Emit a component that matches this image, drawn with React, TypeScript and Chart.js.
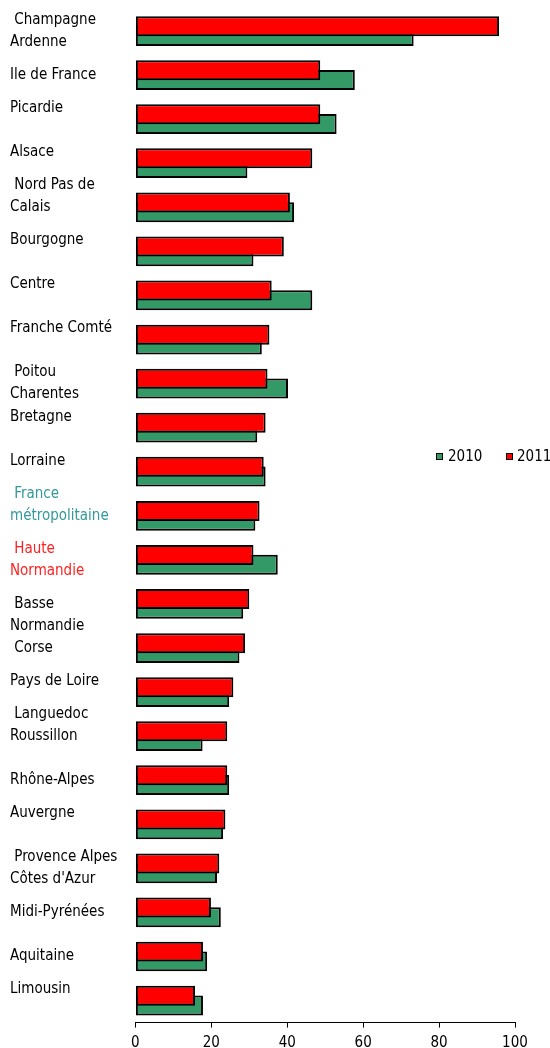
import React, { useEffect, useRef } from "react";
import { Chart, registerables } from "chart.js";

Chart.register(...registerables);

// ---- data ----
const categories: string[][] = [
  [" Champagne", "Ardenne"],
  ["Ile de France"],
  ["Picardie", ""],
  ["Alsace", ""],
  [" Nord Pas de", "Calais", ""],
  ["Bourgogne", ""],
  ["Centre", ""],
  ["Franche Comté", ""],
  [" Poitou", "Charentes"],
  ["Bretagne", ""],
  ["Lorraine", ""],
  [" France", "métropolitaine", ""],
  [" Haute", "Normandie"],
  ["", " Basse", "Normandie"],
  [" Corse"],
  ["Pays de Loire", ""],
  [" Languedoc", "Roussillon", ""],
  ["Rhône-Alpes"],
  ["Auvergne", ""],
  [" Provence Alpes", "Côtes d'Azur"],
  ["Midi-Pyrénées"],
  ["Aquitaine"],
  ["Limousin", ""],
];

const values2010: number[] = [
  73.3, 57.8, 53.0, 29.5, 41.8, 31.1, 46.6, 33.3, 40.2, 32.1, 34.3, 31.6,
  37.5, 28.4, 27.4, 24.7, 17.7, 24.7, 23.1, 21.5, 22.5, 18.9, 17.8,
];

const values2011: number[] = [
  95.8, 48.7, 48.7, 46.6, 40.7, 39.1, 35.9, 35.3, 34.8, 34.3, 33.8, 32.7,
  31.1, 30.0, 28.9, 25.8, 24.2, 24.2, 23.7, 22.1, 19.9, 17.8, 15.7,
];

const seriesNames: string[] = ["2010", "2011"];
const xTickValues: number[] = [0, 20, 40, 60, 80, 100];

// ---- styles ----
const FONT = '"DejaVu Sans Condensed", "DejaVu Sans", sans-serif';
const GREEN = "#339966";
const RED = "#ff0000";
const labelColor = (i: number) =>
  i === 11 ? "#339999" : i === 12 ? "#ff2020" : "#000000";

export default function App() {
  const canvasRef = useRef<HTMLCanvasElement | null>(null);

  useEffect(() => {
    if (!canvasRef.current) return;
    const barCommon = {
      borderColor: "#000000",
      borderWidth: 2,
      borderSkipped: false,
      categoryPercentage: 0.4425,
      barPercentage: 2.05,
    };
    const chart = new Chart(canvasRef.current, {
      type: "bar",
      data: {
        labels: categories,
        datasets: [
          {
            label: seriesNames[1],
            data: values2011,
            backgroundColor: RED,
            ...barCommon,
          },
          {
            label: seriesNames[0],
            data: values2010,
            backgroundColor: GREEN,
            ...barCommon,
          },
        ],
      },
      options: {
        indexAxis: "y",
        responsive: false,
        animation: false,
        layout: { padding: { left: 10, right: 35, top: 9, bottom: 0 } },
        plugins: {
          legend: { display: false },
          tooltip: { enabled: false },
        },
        scales: {
          x: {
            type: "linear",
            position: "bottom",
            min: 0,
            max: 100,
            afterBuildTicks: (s: any) => {
              s.ticks = xTickValues.map((v) => ({ value: v }));
            },
            ticks: {
              color: "#000000",
              font: { family: FONT, size: 15 },
              padding: 7,
              maxRotation: 0,
            },
            grid: {
              display: true,
              drawOnChartArea: false,
              drawTicks: true,
              tickLength: 5,
              tickColor: "#000000",
              color: "#000000",
            },
            border: { display: true, color: "#000000", width: 1 },
            afterFit: (s: any) => {
              s.height = 25.4;
            },
          },
          y: {
            type: "category",
            grid: { display: false },
            border: { display: false },
            ticks: {
              crossAlign: "far",
              padding: 0,
              autoSkip: false,
              color: (ctx: any) => labelColor(ctx.index),
              font: { family: FONT, size: 15, lineHeight: 22 / 15 },
            },
            afterFit: (s: any) => {
              s.width = 125.4;
              s.paddingTop = 0;
              s.paddingBottom = 0;
            },
          },
        },
      } as any,
    });
    return () => chart.destroy();
  }, []);

  const legendText: React.CSSProperties = {
    position: "absolute",
    top: 447,
    font: `15px ${FONT}`,
    lineHeight: "18px",
    color: "#000",
    whiteSpace: "nowrap",
  };
  const square = (left: number, bg: string): React.CSSProperties => ({
    position: "absolute",
    left,
    top: 452.5,
    width: 7,
    height: 7,
    boxSizing: "border-box",
    border: "1px solid #000",
    background: bg,
  });

  return (
    <div
      style={{
        position: "fixed",
        left: 0,
        top: 0,
        width: 550,
        height: 1048,
        background: "#fff",
        overflow: "hidden",
      }}
    >
      <canvas
        ref={canvasRef}
        width={550}
        height={1048}
        style={{ display: "block" }}
      />
      <div style={square(436, GREEN)} />
      <div style={{ ...legendText, left: 448 }}>{seriesNames[0]}</div>
      <div style={square(506, RED)} />
      <div style={{ ...legendText, left: 517 }}>{seriesNames[1]}</div>
    </div>
  );
}
